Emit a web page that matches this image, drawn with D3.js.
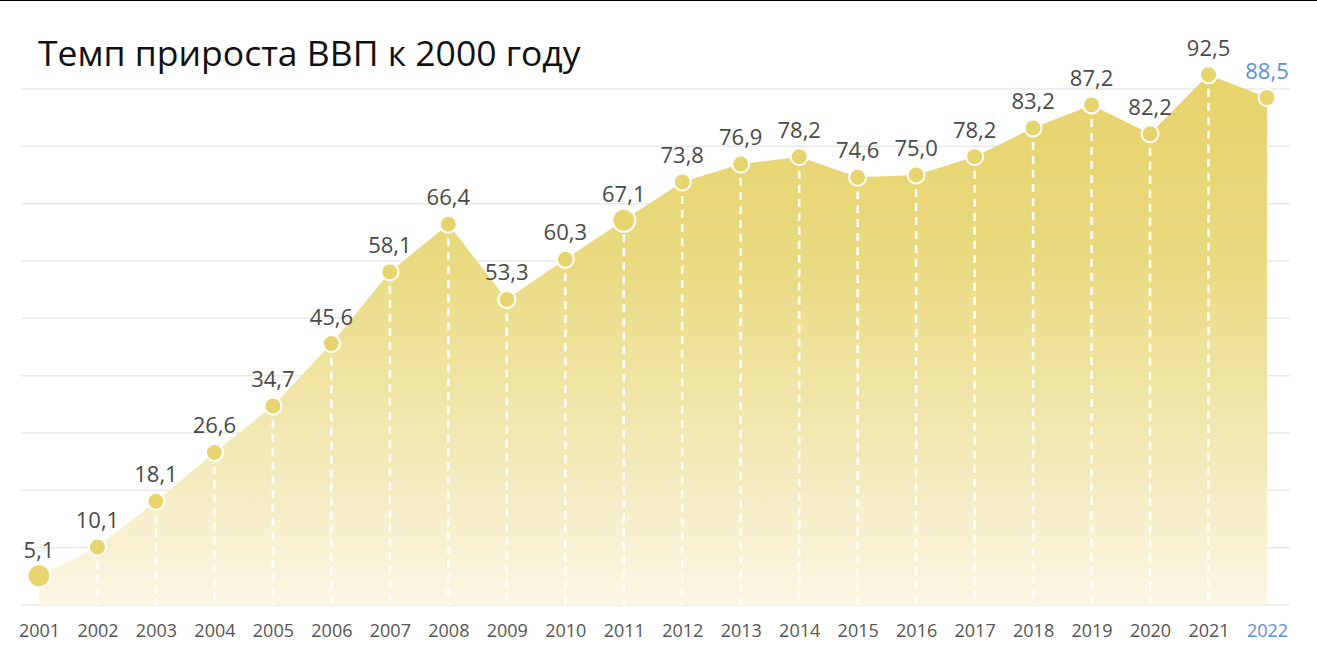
<!DOCTYPE html>
<html><head><meta charset="utf-8">
<script src="https://cdn.jsdelivr.net/npm/d3@7"></script>
<style>
html,body{margin:0;padding:0;background:#fff;}
svg{display:block;font-family:"Open Sans",sans-serif;}
</style></head>
<body>
<svg id="c" width="1317" height="656"></svg>
<script>
const years = ["2001","2002","2003","2004","2005","2006","2007","2008","2009","2010","2011","2012","2013","2014","2015","2016","2017","2018","2019","2020","2021","2022"];
const values = [5.1,10.1,18.1,26.6,34.7,45.6,58.1,66.4,53.3,60.3,67.1,73.8,76.9,78.2,74.6,75.0,78.2,83.2,87.2,82.2,92.5,88.5];
const labels = ["5,1","10,1","18,1","26,6","34,7","45,6","58,1","66,4","53,3","60,3","67,1","73,8","76,9","78,2","74,6","75,0","78,2","83,2","87,2","82,2","92,5","88,5"];
const gridTicks = [0,10,20,30,40,50,60,70,80,90];
const bigPoints = ["2001","2011"];
const highlight = "2022";

const svg = d3.select("#c");
const W = 1317, H = 656;

const x = d3.scalePoint().domain(years).range([39, 1267]);
const y = d3.scaleLinear().domain([0, 90]).range([605, 89]);

svg.append("line").attr("x1",0).attr("x2",W).attr("y1",0.5).attr("y2",0.5)
  .attr("stroke","#000").attr("stroke-width",1);

const defs = svg.append("defs");
const g = defs.append("linearGradient").attr("id","fillg")
  .attr("gradientUnits","userSpaceOnUse")
  .attr("x1",0).attr("x2",0).attr("y1",y(92.5)).attr("y2",y(0));
g.append("stop").attr("offset","0").attr("stop-color","#e7d36b");
g.append("stop").attr("offset","0.35").attr("stop-color","#eada80");
g.append("stop").attr("offset","1").attr("stop-color","#faf6e3");

svg.append("g").selectAll("line").data(gridTicks).join("line")
  .attr("x1",21).attr("x2",1290)
  .attr("y1",d=>y(d)).attr("y2",d=>y(d))
  .attr("stroke","#e9e9e9").attr("stroke-width",1.5);

const data = years.map((yr,i)=>({yr, v: values[i], lab: labels[i]}));

const area = d3.area().x(d=>x(d.yr)).y0(y(0)).y1(d=>y(d.v));
svg.append("path").datum(data).attr("d",area).attr("fill","url(#fillg)");

svg.append("g").selectAll("line").data(data.slice(1, -1)).join("line")
  .attr("x1",d=>x(d.yr)).attr("x2",d=>x(d.yr))
  .attr("y1",d=>y(d.v)).attr("y2",y(0))
  .attr("stroke","#fff").attr("stroke-width",2.5)
  .attr("stroke-dasharray","8,6");

svg.append("g").selectAll("circle").data(data).join("circle")
  .attr("cx",d=>x(d.yr)).attr("cy",d=>y(d.v))
  .attr("r",d=>bigPoints.includes(d.yr)?11.5:8.5)
  .attr("fill","#e8d46e").attr("stroke","#fff").attr("stroke-width",2);

svg.append("g").selectAll("text").data(data).join("text")
  .attr("x",d=>x(d.yr)).attr("y",d=>y(d.v) - (bigPoints.includes(d.yr)?18:19))
  .attr("text-anchor","middle")
  .attr("font-size",22)
  .attr("fill",d=>d.yr===highlight?"#5b8fdb":"#4a4a4a")
  .text(d=>d.lab);

const xAxis = d3.axisBottom(x).tickSize(0).tickPadding(0);
const ax = svg.append("g").attr("transform",`translate(0,${637-13})`).call(xAxis);
ax.select(".domain").remove();
ax.selectAll("text").attr("font-size",18).attr("font-family","Open Sans, sans-serif")
  .attr("fill",d=>d===highlight?"#5b8fdb":"#555").attr("dy","0.71em");

svg.append("text").attr("x",38).attr("y",66).attr("font-size",35.5)
  .attr("font-weight",500).attr("fill","#111")
  .text("Темп прироста ВВП к 2000 году");
</script>
</body></html>
